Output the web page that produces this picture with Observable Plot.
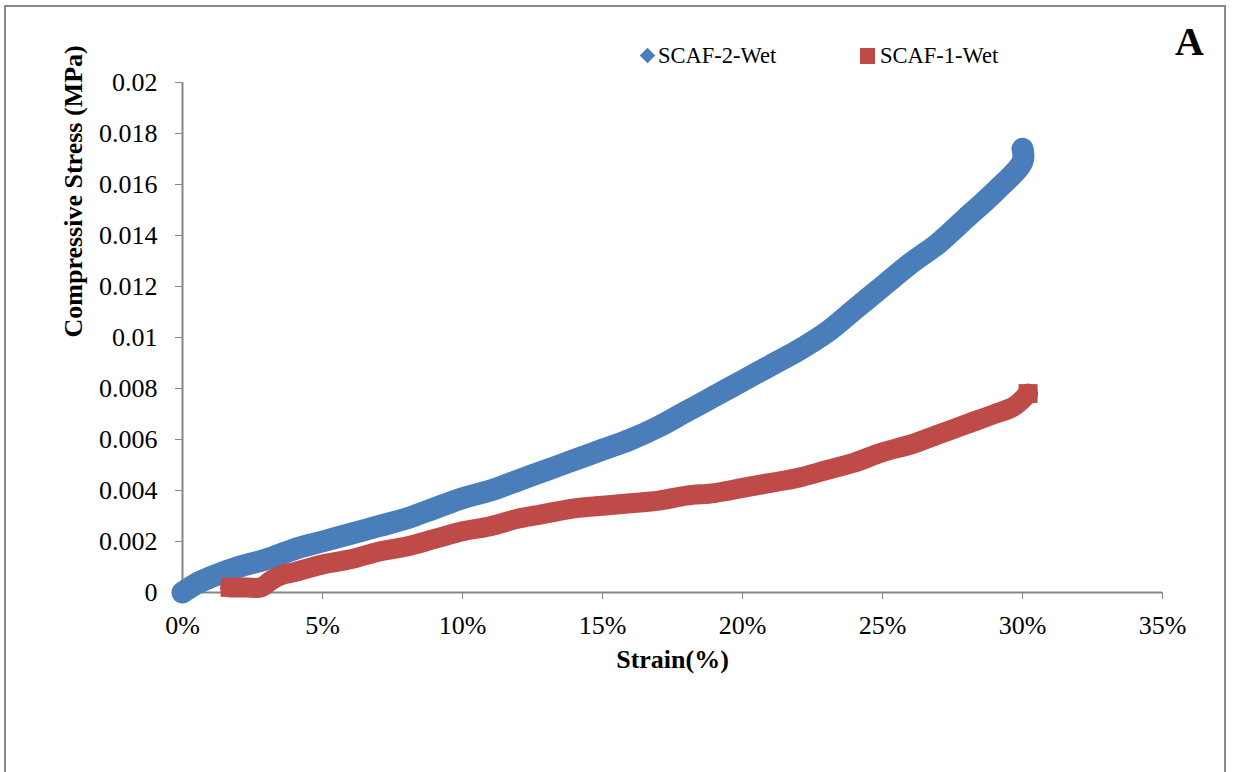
<!DOCTYPE html>
<html>
<head>
<meta charset="utf-8">
<script src="https://cdn.jsdelivr.net/npm/d3@7"></script>
<script src="https://cdn.jsdelivr.net/npm/@observablehq/plot@0.6"></script>
<style>
  html, body { margin: 0; padding: 0; background: #fff; overflow: hidden; }
  #wrap { position: relative; width: 1235px; height: 772px; }
  #frame { position: absolute; left: 4px; top: 5px; width: 1222px; height: 820px;
           border: 2px solid #898989; border-bottom: none; box-sizing: border-box; }
  #chart { position: absolute; left: 0; top: 0; }
  .lbl { position: absolute; font-family: "Liberation Serif", serif; line-height: 1; white-space: nowrap; color: #000; }
  .key { position: absolute; }
</style>
</head>
<body>
<div id="wrap">
  <div id="frame"></div>
  <div id="chart"></div>
  <!-- legend -->
  <div class="key" style="left:642px;top:50px;width:11px;height:11px;background:#4A7EBB;transform:rotate(45deg);"></div>
  <div class="lbl" style="left:658px;top:44.5px;font-size:22.5px;">SCAF-2-Wet</div>
  <div class="key" style="left:860px;top:48px;width:15px;height:16px;background:#BE4B48;"></div>
  <div class="lbl" style="left:880px;top:44.5px;font-size:22.5px;">SCAF-1-Wet</div>
  <!-- panel letter -->
  <div class="lbl" style="left:1175px;top:21.5px;font-size:40px;font-weight:bold;">A</div>
</div>
<script>
// SCAF-2-Wet: strain (%) and compressive stress (MPa)
const strain2 = [0, 0.5, 1, 2, 3, 4, 5, 6, 7, 8, 9, 10, 11, 12, 13, 14, 15, 16, 17, 18, 19, 20,
                 21, 22, 23, 24, 25, 26, 27, 28, 29, 30, 30];
const stress2 = [0, 0.00035, 0.0006, 0.001, 0.0013, 0.0017, 0.002, 0.0023, 0.0026, 0.0029, 0.0033, 0.0037,
                 0.004, 0.0044, 0.0048, 0.0052, 0.0056, 0.006, 0.0065, 0.0071, 0.0077, 0.0083,
                 0.0089, 0.0095, 0.0102, 0.0111, 0.012, 0.0129, 0.0137, 0.0147, 0.0157, 0.0169, 0.0174];

// SCAF-1-Wet: strain (%) and compressive stress (MPa)
const strain1 = [1.7, 2.3, 2.8, 3.2, 3.6, 4, 5, 6, 7, 8, 9, 10, 11, 12, 13, 14, 15, 16, 17, 18, 19, 20,
                 21, 22, 23, 24, 25, 26, 27, 28, 29, 29.7, 30.2];
const stress1 = [0.0002, 0.0002, 0.0002, 0.0005, 0.0007, 0.0008, 0.0011, 0.0013, 0.0016, 0.0018, 0.0021, 0.0024,
                 0.0026, 0.0029, 0.0031, 0.0033, 0.0034, 0.0035, 0.0036, 0.0038, 0.0039, 0.0041,
                 0.0043, 0.0045, 0.0048, 0.0051, 0.0055, 0.0058, 0.0062, 0.0066, 0.007, 0.0073, 0.0078];

const xTicks = [0, 5, 10, 15, 20, 25, 30, 35];
const yTicks = [0, 0.002, 0.004, 0.006, 0.008, 0.01, 0.012, 0.014, 0.016, 0.018, 0.02];

const blue = "#4A7EBB";
const red = "#BE4B48";
const axisGray = "#868686";

const scaf2 = strain2.map((x, i) => ({x, y: stress2[i]}));
const scaf1 = strain1.map((x, i) => ({x, y: stress1[i]}));
const ends2 = [scaf2[0], scaf2[scaf2.length - 1]];
const ends1 = [scaf1[0], scaf1[scaf1.length - 1]];

const chart = Plot.plot({
  width: 1235,
  height: 772,
  marginLeft: 182,
  marginRight: 73,
  marginTop: 82,
  marginBottom: 180,
  style: {fontFamily: "'Liberation Serif', serif", fontSize: "26px", color: "#000", background: "transparent"},
  x: {domain: [0, 35], label: null},
  y: {domain: [0, 0.02], label: null},
  marks: [
    Plot.axisX({ticks: xTicks, tickSize: 7, tickPadding: 16, tickFormat: d => d + "%",
                stroke: axisGray, fill: "#000", fontSize: 26, label: null}),
    Plot.axisY({ticks: yTicks, tickSize: 7, tickPadding: 18, tickFormat: d3.format(".3~f"),
                stroke: axisGray, fill: "#000", fontSize: 26, label: null}),
    Plot.ruleY([0], {stroke: axisGray, strokeWidth: 2}),
    Plot.ruleX([0], {stroke: axisGray, strokeWidth: 2}),
    // SCAF-2-Wet band
    Plot.line(scaf2, {x: "x", y: "y", stroke: blue, strokeWidth: 22, strokeLinejoin: "round", curve: "catmull-rom"}),
    Plot.dot(ends2, {x: "x", y: "y", symbol: "diamond2", r: 9.9, fill: blue}),
    // SCAF-1-Wet band
    Plot.line(scaf1, {x: "x", y: "y", stroke: red, strokeWidth: 20, strokeLinejoin: "round", curve: "catmull-rom"}),
    Plot.dot(ends1, {x: "x", y: "y", symbol: "square", r: 10.7, fill: red}),
    // axis titles
    Plot.text(["Compressive Stress (MPa)"], {frameAnchor: "left", dx: -109, rotate: -90,
                fontWeight: "bold", fontSize: 26, fill: "#000"}),
    Plot.text(["Strain(%)"], {frameAnchor: "bottom", dy: 75, fontWeight: "bold", fontSize: 26, fill: "#000"})
  ]
});
document.getElementById("chart").appendChild(chart);
</script>
</body>
</html>
